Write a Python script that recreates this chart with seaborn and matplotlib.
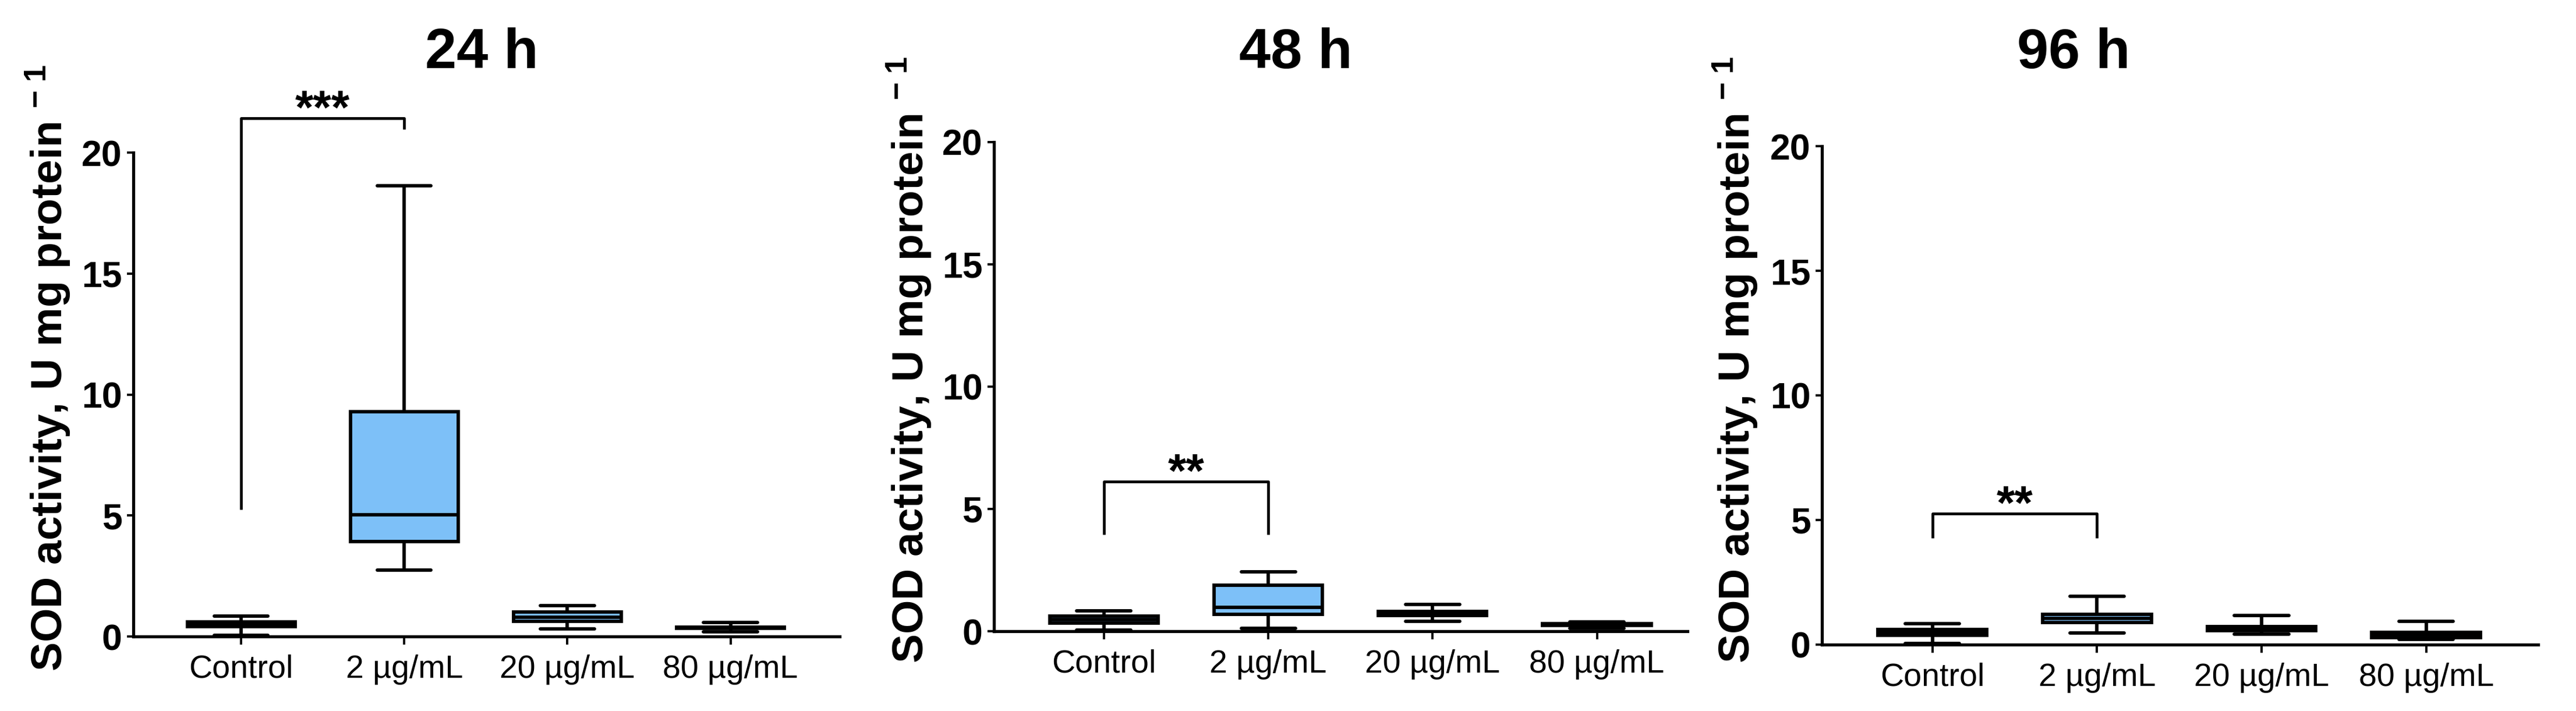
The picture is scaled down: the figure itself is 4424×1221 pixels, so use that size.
import pandas as pd
import seaborn as sns
import matplotlib.pyplot as plt

sns.set_theme(style="ticks")
plt.rcParams["font.family"] = ["Liberation Sans", "DejaVu Sans"]
plt.rcParams["mathtext.fontset"] = "custom"
plt.rcParams["mathtext.rm"] = "Liberation Sans:bold"
plt.rcParams["mathtext.default"] = "rm"
for key in ["text.color", "axes.labelcolor", "xtick.color", "ytick.color", "axes.edgecolor"]:
    plt.rcParams[key] = "black"

# groups and time points
categories = ["Control", "2 µg/mL", "20 µg/mL", "80 µg/mL"]
times = ["24 h", "48 h", "96 h"]

# five-number summaries: min, Q1, median, Q3, max
sod_24h = [
    [0.06, 0.40, 0.50, 0.61, 0.84],
    [2.75, 3.93, 5.02, 9.30, 18.63],
    [0.31, 0.63, 0.80, 1.02, 1.28],
    [0.19, 0.33, 0.36, 0.39, 0.58],
]
sod_48h = [
    [0.04, 0.33, 0.48, 0.62, 0.83],
    [0.12, 0.70, 0.97, 1.89, 2.43],
    [0.41, 0.65, 0.74, 0.82, 1.10],
    [0.13, 0.25, 0.28, 0.31, 0.38],
]
sod_96h = [
    [0.04, 0.38, 0.50, 0.61, 0.83],
    [0.47, 0.89, 1.05, 1.21, 1.94],
    [0.42, 0.57, 0.65, 0.72, 1.16],
    [0.22, 0.29, 0.40, 0.48, 0.93],
]

# significance brackets (Control vs 2 µg/mL): left leg bottom, top, right leg bottom
bracket_24h = [5.25, 21.41, 20.97]
bracket_48h = [3.95, 6.12, 3.95]
bracket_96h = [4.28, 5.26, 4.28]
stars = ["***", "**", "**"]

panels = [sod_24h, sod_48h, sod_96h]
brackets = [bracket_24h, bracket_48h, bracket_96h]

box_color = "#7DC0F8"
ylabel = r"SOD activity, U mg protein $^{-\;1}$"

# axes boxes in figure fractions, x-limits and title centres
axes_rects = [
    [0.0518, 0.1048, 0.2742, 0.6806],
    [0.3858, 0.1122, 0.2692, 0.6880],
    [0.7073, 0.0934, 0.2780, 0.7010],
]
x_limits = [(-0.66, 3.67), (-0.67, 3.55), (-0.67, 3.68)]
title_x = [0.187, 0.503, 0.805]
label_y = [0.555, 0.555, 0.571]

fig = plt.figure(figsize=(44.24, 12.21), dpi=100)

for i, summary in enumerate(panels):
    rows = []
    for group, values in zip(categories, summary):
        for v in values:
            rows.append({"group": group, "value": v})
    df = pd.DataFrame(rows)

    ax = fig.add_axes(axes_rects[i])
    sns.boxplot(data=df, x="group", y="value", order=categories, color=box_color,
                saturation=1, width=0.66, linewidth=4.2, linecolor="black",
                whis=(0, 100), showfliers=False, ax=ax)

    ax.set_xlim(*x_limits[i])
    ax.set_ylim(0, 20)
    ax.set_yticks([0, 5, 10, 15, 20])
    ax.set_xlabel("")
    ax.set_ylabel(ylabel, fontsize=54, fontweight="bold")
    ax.yaxis.set_label_coords(-0.086, label_y[i])

    sns.despine(ax=ax)
    for side in ["left", "bottom"]:
        ax.spines[side].set_linewidth(3.8)
        ax.spines[side].set_color("black")
    ax.tick_params(axis="y", length=8, width=2.8, labelsize=45, pad=6, color="black")
    ax.tick_params(axis="x", length=10, width=2.8, labelsize=40, pad=12, color="black")
    for lbl in ax.get_yticklabels():
        lbl.set_fontweight("bold")

    # significance bracket
    low_l, top, low_r = brackets[i]
    ax.plot([0, 0, 1, 1], [low_l, top, top, low_r], color="black", lw=3.4,
            solid_capstyle="butt", clip_on=False)
    ax.annotate(stars[i], xy=(0.5, top), xytext=(0, -6), textcoords="offset points",
                ha="center", va="baseline", fontsize=58, fontweight="bold",
                annotation_clip=False)

    fig.text(title_x[i], 0.904, times[i], ha="center", va="baseline",
             fontsize=70, fontweight="bold")

fig.savefig("out.png", dpi=100, facecolor="white")
